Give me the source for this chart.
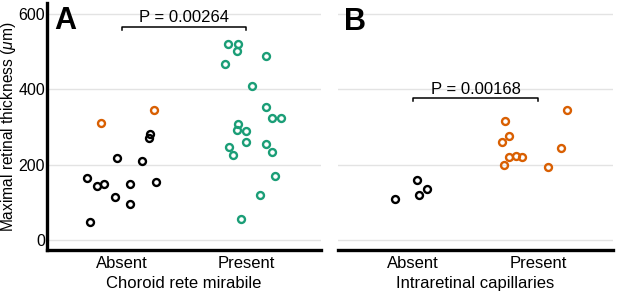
import numpy as np, matplotlib.pyplot as plt

plt.rcParams['font.family'] = ['Liberation Sans', 'DejaVu Sans']
plt.rcParams['mathtext.fontset'] = 'custom'
plt.rcParams['mathtext.it'] = 'Liberation Sans:italic'

BLACK, ORANGE, GREEN = "#000000", "#d95f02", "#1b9e77"
categories = ["Absent", "Present"]

# panel A: choroid rete mirabile
a_absent_black = [164, 142, 149, 218, 209, 114, 147, 96, 153, 46, 282, 270]
a_absent_black_jit = [-0.275, -0.199, -0.141, -0.034, 0.165, -0.055, 0.068, 0.068, 0.277, -0.253, 0.229, 0.218]
a_absent_orange = [311, 345]
a_absent_orange_jit = [-0.167, 0.263]
a_present_green = [521, 521, 503, 467, 489, 409, 353, 323, 325, 307, 293, 288, 261, 246, 254, 225, 232, 170, 120, 55]
a_present_green_jit = [-0.145, -0.07, -0.078, -0.169, 0.161, 0.043, 0.155, 0.209, 0.281, -0.07, -0.072, -0.002,
                       0.0, -0.142, 0.158, -0.11, 0.206, 0.233, 0.107, -0.043]
a_pval = "P = 0.00264"

# panel B: intraretinal capillaries
b_absent_black = [107, 158, 119, 136]
b_absent_black_jit = [-0.148, 0.028, 0.047, 0.114]
b_present_orange = [345, 315, 275, 261, 244, 200, 219, 222, 219, 193]
b_present_orange_jit = [0.228, -0.267, -0.235, -0.289, 0.182, -0.276, -0.233, -0.173, -0.125, 0.078]
b_pval = "P = 0.00168"

def pts(ax, cat, jit, vals, color):
    x = np.array(jit) + cat
    ax.plot(x, vals, "o", ms=5, mfc="none", mec=color, mew=1.7, ls="none", zorder=3, clip_on=False)

def bracket(ax, y, text):
    ax.plot([0, 0, 1, 1], [y - 8, y, y, y - 8], color="black", lw=1.1, clip_on=False)
    ax.text(0.5, y + 5, text, ha="center", va="bottom", fontsize=12)

fig = plt.figure(figsize=(6.17, 3.08), dpi=100)
axA = fig.add_axes([0.0762, 0.188, 0.444, 0.802])
axB = fig.add_axes([0.548, 0.188, 0.4455, 0.802])

for ax, xlabel in [(axA, "Choroid rete mirabile"), (axB, "Intraretinal capillaries")]:
    ax.set_xlim(-0.6, 1.6); ax.set_ylim(-28, 630)
    ax.set_yticks([0, 200, 400, 600])
    ax.grid(axis="y", color="#e3e3e3", lw=1); ax.set_axisbelow(True)
    ax.set_xticks([0, 1]); ax.set_xticklabels(categories, fontsize=12)
    ax.set_xlabel(xlabel, fontsize=12, labelpad=4)
    ax.tick_params(axis="x", length=0, labelsize=12, pad=4)
    ax.tick_params(axis="y", length=0, labelsize=11.5, pad=1.5)
    for s in ["top", "right"]: ax.spines[s].set_visible(False)
    ax.spines["bottom"].set_linewidth(2.4)
    ax.spines["left"].set_linewidth(2.4)

axB.spines["left"].set_visible(False)
axB.set_yticklabels([])
axA.set_ylabel(r"Maximal retinal thickness ($\mu$m)", fontsize=11.2)
axA.yaxis.set_label_coords(-0.107, 0.5)

pts(axA, 0, a_absent_black_jit, a_absent_black, BLACK)
pts(axA, 0, a_absent_orange_jit, a_absent_orange, ORANGE)
pts(axA, 1, a_present_green_jit, a_present_green, GREEN)
bracket(axA, 567, a_pval)

pts(axB, 0, b_absent_black_jit, b_absent_black, BLACK)
pts(axB, 1, b_present_orange_jit, b_present_orange, ORANGE)
bracket(axB, 376, b_pval)

axA.text(0.025, 0.99, "A", transform=axA.transAxes, fontsize=22, fontweight="bold", va="top", ha="left")
axB.text(0.02, 0.985, "B", transform=axB.transAxes, fontsize=22, fontweight="bold", va="top", ha="left")

fig.savefig("out.png", dpi=100)
